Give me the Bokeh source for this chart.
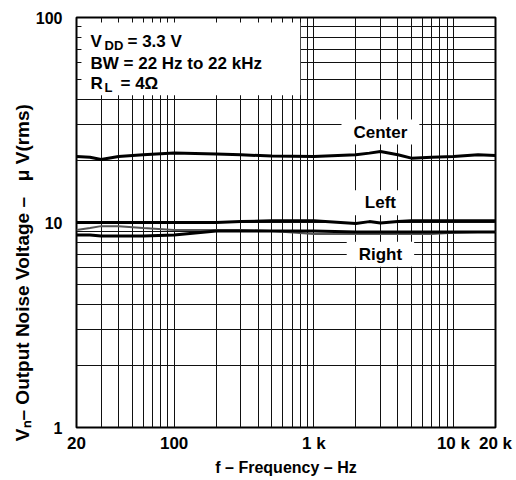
from bokeh.plotting import figure
from bokeh.models import FixedTicker, Label, BoxAnnotation, Range1d
from bokeh.embed import file_html
from bokeh.resources import INLINE

# ---- data ----
freq = [20, 25, 30, 40, 60, 100, 200, 300, 500, 1000, 2000, 2500, 3000, 4000, 5000, 7000, 10000, 15000, 20000]
center = [21.0, 20.8, 20.3, 21.0, 21.4, 21.8, 21.6, 21.4, 21.1, 21.0, 21.4, 21.8, 22.2, 21.4, 20.6, 20.8, 21.0, 21.4, 21.2]
left = [10.0, 10.0, 10.0, 10.0, 10.0, 10.0, 10.0, 10.1, 10.2, 10.2, 9.9, 10.1, 9.95, 10.1, 10.2, 10.2, 10.2, 10.2, 10.2]
right = [8.7, 8.7, 8.6, 8.6, 8.6, 8.7, 9.1, 9.1, 9.1, 9.1, 9.0, 9.0, 9.0, 9.0, 9.0, 9.0, 9.0, 9.0, 9.0]
right_b = [9.2, 9.4, 9.6, 9.6, 9.4, 9.2, 9.2, 9.2, 9.1, 8.8, 8.8, 8.8, 8.8, 8.8, 8.8, 8.8, 8.9, 9.0, 9.0]

x_major = [20, 100, 1000, 10000, 20000]
x_labels = {20: "20", 100: "100", 1000: "1 k", 10000: "10 k", 20000: "20 k"}
x_minor = [30, 40, 50, 60, 70, 80, 90, 200, 300, 400, 500, 600, 700, 800, 900,
           2000, 3000, 4000, 5000, 6000, 7000, 8000, 9000]
y_major = [1, 10, 100]
y_labels = {1: "1", 10: "10", 100: "100"}
y_minor = [2, 3, 4, 5, 6, 7, 8, 9, 20, 30, 40, 50, 60, 70, 80, 90]

FONT = "Liberation Sans"
NB = "\u00a0"

p = figure(width=514, height=478, x_axis_type="log", y_axis_type="log",
           x_range=Range1d(20, 20000), y_range=Range1d(1, 100),
           output_backend="svg", toolbar_location=None,
           min_border_left=76, min_border_right=19, min_border_top=17, min_border_bottom=49)
p.background_fill_color = "white"
p.border_fill_color = "white"
p.outline_line_color = "black"
p.outline_line_width = 2

p.xaxis.ticker = FixedTicker(ticks=x_major, minor_ticks=x_minor)
p.yaxis.ticker = FixedTicker(ticks=y_major, minor_ticks=y_minor)
p.xaxis.major_label_overrides = x_labels
p.yaxis.major_label_overrides = y_labels
for ax in (p.xaxis, p.yaxis):
    ax.axis_line_color = None
    ax.major_tick_line_color = None
    ax.minor_tick_line_color = None
    ax.major_tick_out = 0
    ax.minor_tick_out = 0
    ax.major_tick_in = 0
    ax.minor_tick_in = 0
    ax.major_label_text_font = FONT
    ax.major_label_text_font_style = "bold"
    ax.major_label_text_color = "black"
    ax.axis_label_text_font = FONT
    ax.axis_label_text_font_style = "bold"
    ax.axis_label_text_color = "black"
p.xaxis.major_label_text_font_size = "17px"
p.yaxis.major_label_text_font_size = "16px"
p.xaxis.major_label_standoff = 6
p.yaxis.major_label_standoff = 14
p.xaxis.axis_label = "f – Frequency – Hz"
p.xaxis.axis_label_text_font_size = "16px"
p.xaxis.axis_label_standoff = 3
# y label: trailing no-break spaces shift the centred label toward the bottom, as in the reference
p.yaxis.axis_label = "V\u2099– Output Noise Voltage –" + NB * 3 + "μ V(rms)" + NB * 19
p.yaxis.axis_label_text_font_size = "19px"
p.yaxis.axis_label_standoff = 0

for g in (p.xgrid, p.ygrid):
    g.grid_line_color = "#111111"
    g.grid_line_width = 1
    g.minor_grid_line_color = "#111111"
    g.minor_grid_line_width = 1

# curves
p.line(freq, center, line_color="black", line_width=3)
p.line(freq, left, line_color="black", line_width=3)
p.line(freq, right_b, line_color="#555555", line_width=2)
p.line(freq, right, line_color="black", line_width=3)

# white legend box in the upper-left corner
p.add_layout(BoxAnnotation(left=21.7, right=800, top=94.6, bottom=41.8,
                           fill_color="white", fill_alpha=1.0, line_color=None))

def lab(text, x, y, xo, yo, size=17, bg=None, pad=0, baseline="alphabetic", align="left"):
    kw = {}
    if bg is not None:
        kw = dict(background_fill_color=bg, background_fill_alpha=1.0, padding=pad)
    p.add_layout(Label(x=x, y=y, x_offset=xo, y_offset=yo, text=text,
                       text_font=FONT, text_font_style="bold", text_font_size=f"{size}px",
                       text_color="black", text_baseline=baseline,
                       text_align=align, **kw))

# legend text (anchored at top-left corner of frame)
lab("V", 20, 100, 14, -24)
lab("DD", 20, 100, 28, -28, size=13)
lab("= 3.3 V", 20, 100, 51, -24)
lab("BW = 22 Hz to 22 kHz", 20, 100, 14, -46)
lab("R", 20, 100, 14, -66)
lab("L", 20, 100, 28, -70, size=13)
lab("= 4Ω", 20, 100, 44, -66)

# curve labels with white boxes
lab("Center", 3000, 27.6, 0, 0, bg="white", pad=(12, 3), baseline="middle", align="center")
lab("Left", 3000, 12.5, 0, 0, bg="white", pad=(12, 3), baseline="middle", align="center")
lab("Right", 3000, 7.0, 0, 0, bg="white", pad=(12, 3), baseline="middle", align="center")

open("out.html", "w").write(file_html(p, INLINE))
